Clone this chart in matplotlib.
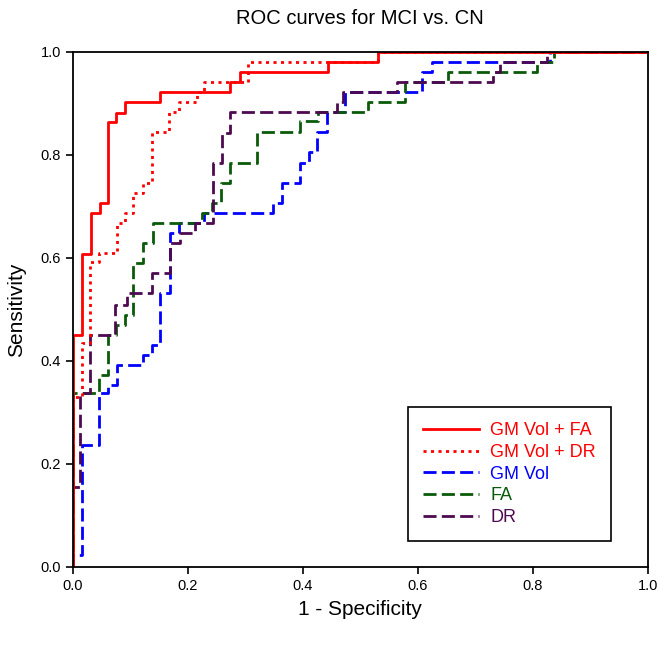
import matplotlib
matplotlib.use("Agg")
import matplotlib.pyplot as plt

plt.rcParams['font.family'] = ['Liberation Sans', 'DejaVu Sans']

# ROC corner points (1 - specificity, sensitivity)
fpr_gmvol_fa = [0, 0, 0.016, 0.016, 0.032, 0.032, 0.047, 0.047, 0.062, 0.062, 0.076, 0.076,
                0.091, 0.091, 0.152, 0.152, 0.274, 0.274, 0.291, 0.291, 0.443, 0.443, 0.531, 0.531, 1.0]
tpr_gmvol_fa = [0, 0.451, 0.451, 0.608, 0.608, 0.688, 0.688, 0.706, 0.706, 0.863, 0.863, 0.882,
                0.882, 0.902, 0.902, 0.922, 0.922, 0.941, 0.941, 0.961, 0.961, 0.980, 0.980, 1.0, 1.0]

fpr_gmvol_dr = [0, 0, 0.016, 0.016, 0.030, 0.030, 0.045, 0.045, 0.0765, 0.0765, 0.091, 0.091,
                0.105, 0.105, 0.122, 0.122, 0.137, 0.137, 0.168, 0.168, 0.184, 0.184, 0.216, 0.216,
                0.228, 0.228, 0.305, 0.305, 0.53, 0.53, 1.0]
tpr_gmvol_dr = [0, 0.33, 0.33, 0.435, 0.435, 0.593, 0.593, 0.609, 0.609, 0.667, 0.667, 0.687,
                0.687, 0.726, 0.726, 0.745, 0.745, 0.845, 0.845, 0.884, 0.884, 0.903, 0.903, 0.922,
                0.922, 0.942, 0.942, 0.981, 0.981, 1.0, 1.0]

fpr_gmvol = [0, 0, 0.016, 0.016, 0.045, 0.045, 0.062, 0.062, 0.0765, 0.0765, 0.123, 0.123,
             0.137, 0.137, 0.152, 0.152, 0.169, 0.169, 0.184, 0.184, 0.228, 0.228, 0.349, 0.349,
             0.363, 0.363, 0.395, 0.395, 0.41, 0.41, 0.425, 0.425, 0.442, 0.442, 0.473, 0.473,
             0.607, 0.607, 0.624, 0.624, 0.83, 0.83, 1.0]
tpr_gmvol = [0, 0.023, 0.023, 0.237, 0.237, 0.338, 0.338, 0.353, 0.353, 0.392, 0.392, 0.412,
             0.412, 0.431, 0.431, 0.531, 0.531, 0.648, 0.648, 0.668, 0.668, 0.687, 0.687, 0.706,
             0.706, 0.745, 0.745, 0.784, 0.784, 0.806, 0.806, 0.845, 0.845, 0.884, 0.884, 0.922,
             0.922, 0.961, 0.961, 0.981, 0.981, 1.0, 1.0]

fpr_fa = [0, 0, 0.046, 0.046, 0.062, 0.062, 0.076, 0.076, 0.091, 0.091, 0.105, 0.105, 0.123,
          0.123, 0.14, 0.14, 0.224, 0.224, 0.242, 0.242, 0.257, 0.257, 0.274, 0.274, 0.32, 0.32,
          0.395, 0.395, 0.427, 0.427, 0.514, 0.514, 0.578, 0.578, 0.653, 0.653, 0.807, 0.807,
          0.836, 0.836, 1.0]
tpr_fa = [0, 0.337, 0.337, 0.373, 0.373, 0.45, 0.45, 0.47, 0.47, 0.49, 0.49, 0.59, 0.59,
          0.629, 0.629, 0.667, 0.667, 0.687, 0.687, 0.706, 0.706, 0.745, 0.745, 0.784, 0.784, 0.845,
          0.845, 0.865, 0.865, 0.884, 0.884, 0.903, 0.903, 0.942, 0.942, 0.961, 0.961, 0.981,
          0.981, 1.0, 1.0]

fpr_dr = [0, 0, 0.013, 0.013, 0.03, 0.03, 0.074, 0.074, 0.094, 0.094, 0.137, 0.137, 0.169,
          0.169, 0.187, 0.187, 0.213, 0.213, 0.244, 0.244, 0.259, 0.259, 0.274, 0.274, 0.459,
          0.459, 0.47, 0.47, 0.563, 0.563, 0.731, 0.731, 0.743, 0.743, 0.825, 0.825, 1.0]
tpr_dr = [0, 0.156, 0.156, 0.337, 0.337, 0.45, 0.45, 0.509, 0.509, 0.531, 0.531, 0.57, 0.57,
          0.629, 0.629, 0.648, 0.648, 0.667, 0.667, 0.784, 0.784, 0.843, 0.843, 0.884, 0.884,
          0.903, 0.903, 0.922, 0.922, 0.942, 0.942, 0.961, 0.961, 0.981, 0.981, 1.0, 1.0]

labels = ["GM Vol + FA", "GM Vol + DR", "GM Vol", "FA", "DR"]
colors = ["#FF0000", "#FF0000", "#0000FF", "#0A5A0A", "#4E0A50"]
ticks = [0.0, 0.2, 0.4, 0.6, 0.8, 1.0]
tick_labels = ["0.0", "0.2", "0.4", "0.6", "0.8", "1.0"]

fig = plt.figure(figsize=(6.67, 6.48), dpi=100)
ax = fig.add_axes([0.109, 0.125, 0.8625, 0.795])

lw = 2.0
dash = (4.7, 1.9)
l_gm = ax.plot(fpr_gmvol, tpr_gmvol, color=colors[2], lw=lw, dashes=dash, label=labels[2])[0]
l_fa = ax.plot(fpr_fa, tpr_fa, color=colors[3], lw=lw, dashes=dash, label=labels[3])[0]
l_dr = ax.plot(fpr_dr, tpr_dr, color=colors[4], lw=lw, dashes=dash, label=labels[4])[0]
l_gdr = ax.plot(fpr_gmvol_dr, tpr_gmvol_dr, color=colors[1], lw=lw, dashes=(1.1, 1.6), label=labels[1])[0]
l_gfa = ax.plot(fpr_gmvol_fa, tpr_gmvol_fa, color=colors[0], lw=lw, label=labels[0])[0]

ax.set_xlim(0, 1)
ax.set_ylim(0, 1)
ax.set_xticks(ticks)
ax.set_xticklabels(tick_labels)
ax.set_yticks(ticks)
ax.set_yticklabels(tick_labels)
ax.tick_params(direction='out', length=5, width=1.2, labelsize=10.5, top=False, right=False)
for s in ax.spines.values():
    s.set_linewidth(1.3)

ax.set_xlabel("1 - Specificity", fontsize=15, labelpad=5)
ax.set_ylabel("Sensitivity", fontsize=15, labelpad=10)
ax.set_title("ROC curves for MCI vs. CN", fontsize=14.5, pad=20)

leg = ax.legend(handles=[l_gfa, l_gdr, l_gm, l_fa, l_dr], loc='upper left',
                bbox_to_anchor=(0.583, 0.311), borderaxespad=0, fontsize=13,
                handlelength=3.1, handletextpad=0.6, labelspacing=0.26, borderpad=0.85,
                fancybox=False, framealpha=1, edgecolor='black')
leg.get_frame().set_linewidth(1.2)
for txt, c in zip(leg.get_texts(), colors):
    txt.set_color(c)

fig.savefig("out.png", dpi=100)
